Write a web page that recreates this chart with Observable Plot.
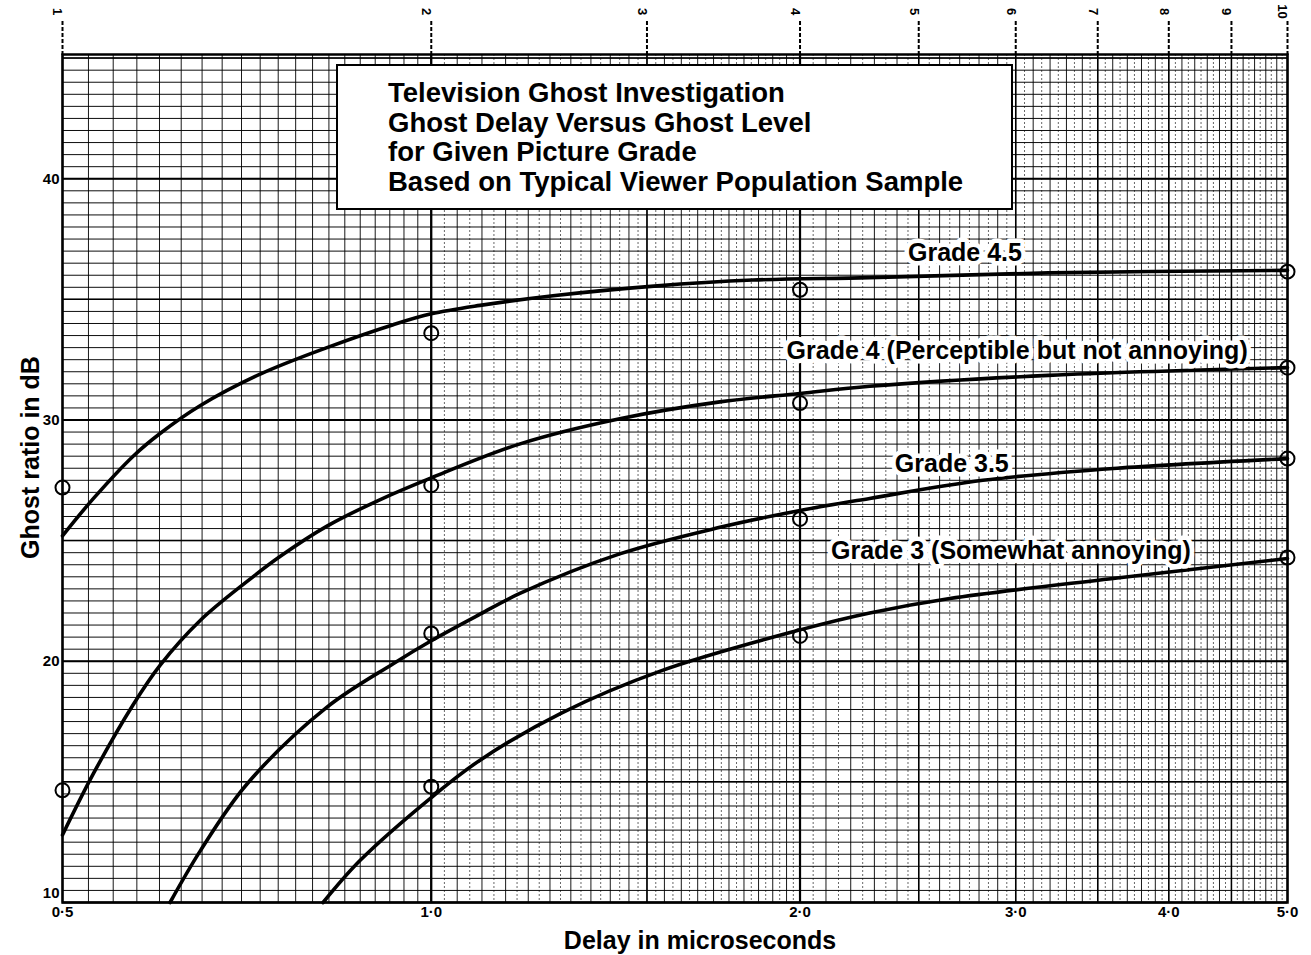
<!DOCTYPE html>
<html>
<head>
<meta charset="utf-8">
<script src="https://cdn.jsdelivr.net/npm/d3@7"></script>
<script src="https://cdn.jsdelivr.net/npm/@observablehq/plot@0.6"></script>
<style>
  html, body { margin: 0; padding: 0; background: #fff; }
  #wrap { position: relative; width: 1311px; height: 955px; font-family: "Liberation Sans", Arial, sans-serif; }
  #titlebox {
    position: absolute; left: 336px; top: 64px; width: 677px; height: 146px;
    box-sizing: border-box; border: 2px solid #000; background: #fff;
    padding: 12px 0 0 50px; font-weight: bold; font-size: 27.5px; line-height: 29.5px; color: #000;
    white-space: nowrap;
  }
</style>
</head>
<body>
<div id="wrap">
  <div id="chart"></div>
  <div id="titlebox">
    <div>Television Ghost Investigation</div>
    <div>Ghost Delay Versus Ghost Level</div>
    <div>for Given Picture Grade</div>
    <div>Based on Typical Viewer Population Sample</div>
  </div>
</div>
<script>
// ---- Data ----
const grade45X = [0.5, 0.53, 0.571, 0.601, 0.648, 0.725, 0.822, 0.931, 1.0, 1.096, 1.257, 1.52, 1.83, 2.28, 3.19, 5.0];
const grade45Y = [25.2, 26.75, 28.5, 29.45, 30.6, 31.9, 33.0, 33.95, 34.4, 34.75, 35.15, 35.55, 35.8, 35.9, 36.1, 36.2];

const grade4X = [0.5, 0.53, 0.571, 0.601, 0.648, 0.707, 0.753, 0.822, 0.904, 1.0, 1.18, 1.425, 1.72, 2.0, 2.28, 3.19, 5.0];
const grade4Y = [12.8, 15.35, 18.2, 19.85, 21.7, 23.3, 24.35, 25.6, 26.65, 27.6, 29.0, 30.05, 30.75, 31.1, 31.4, 31.85, 32.17];

const grade35X = [0.612, 0.648, 0.707, 0.822, 0.931, 1.0, 1.096, 1.18, 1.425, 1.72, 2.0, 2.28, 2.82, 3.63, 5.0];
const grade35Y = [10.0, 12.15, 14.9, 18.1, 19.9, 20.85, 21.95, 22.8, 24.45, 25.55, 26.25, 26.75, 27.5, 28.0, 28.4];

const grade3X = [0.816, 0.875, 1.0, 1.096, 1.277, 1.54, 2.0, 2.28, 2.65, 3.63, 5.0];
const grade3Y = [10.0, 11.75, 14.35, 15.9, 17.85, 19.6, 21.3, 22.0, 22.6, 23.45, 24.26];

const obsX = [0.5, 0.5, 1.0, 1.0, 1.0, 1.0, 2.0, 2.0, 2.0, 2.0, 5.0, 5.0, 5.0, 5.0];
const obsY = [27.2, 14.65, 33.6, 27.3, 21.15, 14.8, 35.4, 30.7, 25.9, 21.05, 36.15, 32.17, 28.4, 24.3];

const labelText = ["Grade 4.5", "Grade 4 (Perceptible but not annoying)", "Grade 3.5", "Grade 3 (Somewhat annoying)"];
const labelX = [2.45, 1.95, 2.39, 2.12];
const labelY = [36.94, 32.88, 28.19, 24.59];

const bottomTickValues = [0.5, 1.0, 2.0, 3.0, 4.0, 5.0];
const bottomTickLabels = ["0·5", "1·0", "2·0", "3·0", "4·0", "5·0"];
const topTickValues = [0.5, 1.0, 1.5, 2.0, 2.5, 3.0, 3.5, 4.0, 4.5, 5.0];
const topTickLabels = ["1", "2", "3", "4", "5", "6", "7", "8", "9", "10"];
const yTickValues = [10, 20, 30, 40];

// ---- build tables ----
const curves = [
  ...grade45X.map((x, i) => ({grade: "4.5", x, y: grade45Y[i]})),
  ...grade4X.map((x, i) => ({grade: "4", x, y: grade4Y[i]})),
  ...grade35X.map((x, i) => ({grade: "3.5", x, y: grade35Y[i]})),
  ...grade3X.map((x, i) => ({grade: "3", x, y: grade3Y[i]}))
];
const obs = obsX.map((x, i) => ({x, y: obsY[i]}));
const labels = labelText.map((t, i) => ({t, x: labelX[i], y: labelY[i]}));

// graph-paper rulings (log paper)
const r = (a, b, s) => d3.range(a, b + 1e-9, s).map(v => +v.toFixed(4));
const solidX = [...r(0.5, 1.0, 0.025), ...r(1.0, 2.0, 0.05), ...r(2.0, 5.0, 0.1)];
const dashX = [...r(1.025, 2.0, 0.05), ...r(2.05, 5.0, 0.1)];
const heavyX = [1.0, 2.0];
const midX = topTickValues;
const solidY = r(10, 45, 0.5);
const midY = r(15, 45, 10);
const heavyY = r(10, 40, 10);

const Y_TOP = 45.15;
const font = "Liberation Sans, Arial, sans-serif";
const tickLabel = d => bottomTickLabels[bottomTickValues.indexOf(d)];
const topLabel = d => topTickLabels[topTickValues.indexOf(d)];

const chart = Plot.plot({
  width: 1311,
  height: 955,
  marginLeft: 62,
  marginRight: 24,
  marginTop: 54,
  marginBottom: 53,
  style: {fontFamily: font, background: "white", color: "black"},
  x: {type: "log", domain: [0.5, 5.0]},
  y: {domain: [10, Y_TOP], axis: null},
  marks: [
    Plot.ruleX(dashX, {stroke: "#000", strokeWidth: 0.8, strokeOpacity: 0.75, strokeDasharray: "2,2"}),
    Plot.ruleX(solidX, {stroke: "#000", strokeWidth: 1, strokeOpacity: 0.9}),
    Plot.ruleX(midX, {stroke: "#000", strokeWidth: 1.5}),
    Plot.ruleX(heavyX, {stroke: "#000", strokeWidth: 2.2}),
    Plot.ruleY(solidY, {stroke: "#000", strokeWidth: 1, strokeOpacity: 0.95}),
    Plot.ruleY(midY, {stroke: "#000", strokeWidth: 1.5}),
    Plot.ruleY(heavyY, {stroke: "#000", strokeWidth: 2}),
    Plot.frame({stroke: "#000", strokeWidth: 2.5}),
    Plot.line(curves, {x: "x", y: "y", z: "grade", curve: "catmull-rom", stroke: "#000", strokeWidth: 3.6}),
    Plot.dot(obs, {x: "x", y: "y", r: 7, stroke: "#000", strokeWidth: 2, fill: "none"}),
    Plot.text(labels, {x: "x", y: "y", text: "t", textAnchor: "start", fontSize: 25, fontWeight: "bold",
      fill: "#000", stroke: "white", strokeWidth: 9, strokeLinejoin: "round", fontFamily: font}),
    // top (paper cycle) ticks
    Plot.axisX({anchor: "top", ticks: topTickValues, tickFormat: () => "", tickSize: 36,
      strokeWidth: 2, strokeDasharray: "4,2", label: null}),
    Plot.text(topTickValues, {x: d => d, text: topLabel, frameAnchor: "top",
      dy: -43, rotate: 90, fontSize: 13, fontWeight: "bold", fill: "#000"}),
    // bottom tick labels
    Plot.text(bottomTickValues, {x: d => d, text: tickLabel, frameAnchor: "bottom", lineAnchor: "top",
      dy: 4, fontSize: 15, fontWeight: "bold", fill: "#000"}),
    // left tick labels
    Plot.text(yTickValues.filter(v => v > 10), {y: d => d, text: d => String(d), frameAnchor: "left", textAnchor: "end",
      dx: -3, fontSize: 15, fontWeight: "bold", fill: "#000"}),
    Plot.text(yTickValues.filter(v => v === 10), {y: d => d, text: d => String(d), frameAnchor: "left", textAnchor: "end",
      dx: -3, dy: -9, fontSize: 15, fontWeight: "bold", fill: "#000"}),
    // axis titles
    Plot.text(["Ghost ratio in dB"], {frameAnchor: "left", textAnchor: "middle", dx: -32, dy: -21, rotate: -90,
      fontSize: 25, fontWeight: "bold", fill: "#000"}),
    Plot.text(["Delay in microseconds"], {frameAnchor: "bottom", textAnchor: "middle", lineAnchor: "bottom", dx: 25, dy: 46,
      fontSize: 25, fontWeight: "bold", fill: "#000"})
  ]
});
document.getElementById("chart").appendChild(chart);
</script>
</body>
</html>
